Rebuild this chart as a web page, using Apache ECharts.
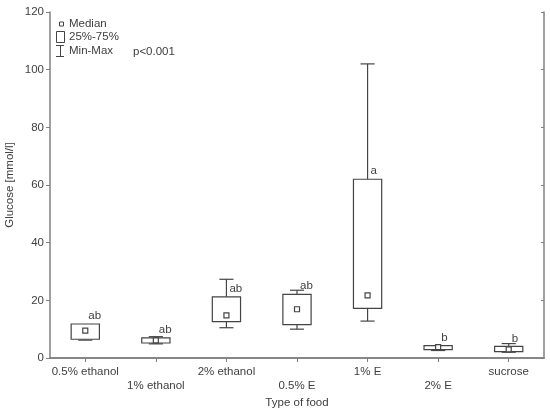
<!DOCTYPE html>
<html>
<head>
<meta charset="utf-8">
<script src="https://cdn.jsdelivr.net/npm/echarts@6/dist/echarts.min.js"></script>
<style>
html,body{margin:0;padding:0;background:#fff;}
#chart{width:550px;height:413px;}
</style>
</head>
<body>
<div id="chart"></div>
<script>
var categories = ['0.5% ethanol', '1% ethanol', '2% ethanol', '0.5% E', '1% E', '2% E', 'sucrose'];
var minVals    = [6.2, 4.9, 10.5, 10.0, 12.8, 2.6, 2.0];
var q1Vals     = [6.5, 5.2, 12.6, 11.6, 17.2, 2.9, 2.2];
var medianVals = [9.5, 6.1, 14.8, 16.9, 21.7, 3.8, 3.0];
var q3Vals     = [11.8, 7.0, 21.2, 22.1, 62.0, 4.3, 4.0];
var maxVals    = [11.8, 7.4, 27.3, 23.5, 102.0, 4.4, 5.0];
var letters    = ['ab', 'ab', 'ab', 'ab', 'a', 'b', 'b'];
var yMin = 0, yMax = 120, yInterval = 20;

var FONT = 'Liberation Sans, Arial, sans-serif';
var TXT = '#404040';
var AX = '#808080';
var BOX = '#444444';

var seriesData = categories.map(function (c, i) {
  return [i, minVals[i], q1Vals[i], medianVals[i], q3Vals[i], maxVals[i]];
});

function renderItem(params, api) {
  var i = api.value(0);
  var x = api.coord([i, 0])[0];
  var bw = api.size([1, 0])[0];
  var boxW = bw * 0.4, capW = bw * 0.2;
  var yMn = api.coord([i, api.value(1)])[1];
  var yQ1 = api.coord([i, api.value(2)])[1];
  var yMd = api.coord([i, api.value(3)])[1];
  var yQ3 = api.coord([i, api.value(4)])[1];
  var yMx = api.coord([i, api.value(5)])[1];
  var ls = {stroke: BOX, lineWidth: 1.2, fill: null};
  var ch = [];
  if (yQ3 - yMx > 0.5) {
    ch.push({type: 'line', shape: {x1: x, y1: yMx, x2: x, y2: yQ3}, style: ls});
    ch.push({type: 'line', shape: {x1: x - capW / 2, y1: yMx, x2: x + capW / 2, y2: yMx}, style: ls});
  }
  if (yMn - yQ1 > 0.5) {
    ch.push({type: 'line', shape: {x1: x, y1: yQ1, x2: x, y2: yMn}, style: ls});
    ch.push({type: 'line', shape: {x1: x - capW / 2, y1: yMn, x2: x + capW / 2, y2: yMn}, style: ls});
  }
  ch.push({type: 'rect', shape: {x: x - boxW / 2, y: yQ3, width: boxW, height: yQ1 - yQ3},
    style: {stroke: BOX, lineWidth: 1.2, fill: '#fff'}});
  ch.push({type: 'rect', shape: {x: x - 2.5, y: yMd - 2.5, width: 5, height: 5},
    style: {stroke: BOX, lineWidth: 1.2, fill: '#fff'}});
  ch.push({type: 'text', style: {text: letters[i], x: x + 3, y: yQ3 - 2,
    fill: TXT, fontSize: 11.5, fontFamily: FONT, align: 'left', verticalAlign: 'bottom'}});
  return {type: 'group', children: ch};
}

var chart = echarts.init(document.getElementById('chart'), null, {renderer: 'canvas'});
chart.setOption({
  backgroundColor: '#fff',
  animation: false,
  grid: {left: 50, right: 6, top: 12, bottom: 55, outerBoundsMode: 'none', containLabel: false},
  xAxis: [{
    type: 'category', data: categories, boundaryGap: true,
    name: 'Type of food', nameLocation: 'middle', nameGap: 39, nameMoveOverlap: false,
    nameTextStyle: {color: TXT, fontSize: 11.5, fontFamily: FONT},
    axisLine: {lineStyle: {color: AX, width: 1.5}},
    axisTick: {inside: true, length: 3, alignWithLabel: true, lineStyle: {color: AX}},
    axisLabel: {color: TXT, fontSize: 11.5, fontFamily: FONT, margin: 7, interval: 0, lineHeight: 14,
      formatter: function (v, idx) { return idx % 2 === 1 ? '\n' + v : v; }},
    splitLine: {show: false}
  }, {
    type: 'category', data: categories, boundaryGap: true, position: 'top',
    axisLine: {lineStyle: {color: AX, width: 1.5}},
    axisTick: {show: true, inside: true, length: 4, alignWithLabel: true, interval: 0, lineStyle: {color: AX}},
    axisLabel: {show: false, interval: 0}, splitLine: {show: false}
  }],
  yAxis: [{
    type: 'value', min: yMin, max: yMax, interval: yInterval,
    name: 'Glucose [mmol/l]', nameLocation: 'middle', nameGap: 34, nameMoveOverlap: false,
    nameTextStyle: {color: TXT, fontSize: 11.5, fontFamily: FONT},
    axisLine: {show: true, lineStyle: {color: AX, width: 1.5}},
    axisTick: {show: true, length: 4, lineStyle: {color: AX}},
    axisLabel: {color: TXT, fontSize: 11.5, fontFamily: FONT, margin: 6},
    splitLine: {show: false}
  }, {
    type: 'value', min: yMin, max: yMax, interval: yInterval, position: 'right',
    axisLine: {show: true, lineStyle: {color: AX, width: 1.5}},
    axisTick: {show: true, inside: true, length: 3, lineStyle: {color: AX}},
    axisLabel: {show: false}, splitLine: {show: false}
  }],
  graphic: [
    {type: 'rect', shape: {x: 59.5, y: 22, width: 4, height: 4}, style: {stroke: BOX, fill: '#fff', lineWidth: 1}},
    {type: 'text', style: {text: 'Median', x: 69, y: 24, fill: TXT, fontSize: 11.5, fontFamily: FONT, verticalAlign: 'middle'}},
    {type: 'rect', shape: {x: 56.5, y: 31.5, width: 8, height: 11}, style: {stroke: BOX, fill: '#fff', lineWidth: 1}},
    {type: 'text', style: {text: '25%-75%', x: 69, y: 37, fill: TXT, fontSize: 11.5, fontFamily: FONT, verticalAlign: 'middle'}},
    {type: 'polyline', shape: {points: [[56, 45.5], [64, 45.5]]}, style: {stroke: BOX, lineWidth: 1}},
    {type: 'polyline', shape: {points: [[60.5, 45.5], [60.5, 56.5]]}, style: {stroke: BOX, lineWidth: 1}},
    {type: 'polyline', shape: {points: [[56, 56.5], [64, 56.5]]}, style: {stroke: BOX, lineWidth: 1}},
    {type: 'text', style: {text: 'Min-Max', x: 69, y: 51, fill: TXT, fontSize: 11.5, fontFamily: FONT, verticalAlign: 'middle'}},
    {type: 'text', style: {text: 'p<0.001', x: 133, y: 52, fill: TXT, fontSize: 11.5, fontFamily: FONT, verticalAlign: 'middle'}}
  ],
  series: [{
    type: 'custom', xAxisIndex: 0, yAxisIndex: 0,
    renderItem: renderItem,
    encode: {x: 0, y: [1, 2, 3, 4, 5]},
    data: seriesData
  }]
});
</script>
</body>
</html>
